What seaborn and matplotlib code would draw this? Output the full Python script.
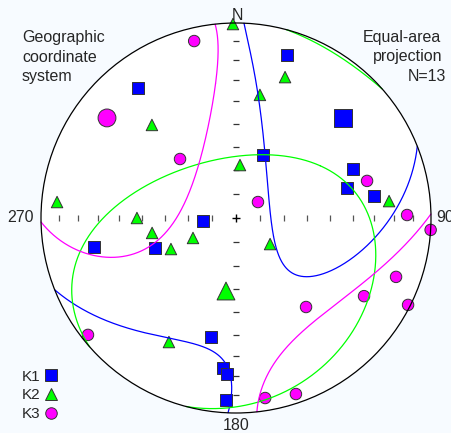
import numpy as np
import pandas as pd
import matplotlib
matplotlib.use("Agg")
import matplotlib.pyplot as plt
from matplotlib.patches import Circle
from matplotlib.lines import Line2D
import seaborn as sns

# Principal susceptibility axes of the 13 specimens (declination, inclination in degrees)
k1_dec = [323.0, 17.4, 23.2, 67.3, 74.9, 80.9, 264.8, 258.5, 249.7, 191.9, 185.0, 183.3, 183.1]
k1_inc = [17.6, 13.5, 61.2, 35.2, 40.7, 29.1, 76.2, 26.6, 53.5, 37.7, 23.8, 21.0, 7.2]
k2_dec = [359.1, 19.2, 11.0, 317.9, 4.3, 83.7, 275.1, 270.0, 259.9, 245.1, 244.5, 127.4, 208.4]
k2_inc = [0.6, 24.5, 35.9, 35.9, 67.8, 22.1, 8.7, 47.9, 54.0, 70.2, 59.7, 72.1, 28.5]
k3_dec = [346.7, 316.5, 74.2, 54.0, 89.0, 93.5, 110.2, 121.4, 116.8, 141.8, 231.7, 170.8, 161.2]
k3_inc = [7.5, 55.7, 30.8, 78.7, 13.3, 0.0, 13.6, 24.1, 1.3, 41.5, 3.7, 7.2, 5.2]

# Mean tensor axes K1, K2, K3
axis_names = ["K1", "K2", "K3"]
mean_dec = [46.9, 187.8, 307.8]
mean_inc = [25.8, 59.0, 17.4]

# 95% confidence ellipses: semi-major / semi-minor angles (deg) and the tilt of the
# major axis, measured in the plane spanned by the two other mean axes
ell_major = [67.3, 67.5, 55.6]
ell_minor = [32.6, 53.7, 41.5]
ell_tilt = [-17.4, -19.4, -82.2]

colors = {"K1": "#0000ff", "K2": "#00ff00", "K3": "#ff00ff"}
markers = {"K1": "s", "K2": "^", "K3": "o"}
grid_inc = [10, 20, 30, 40, 50, 60, 70, 80]


def dir_vec(dec, inc):
    d, i = np.radians(dec), np.radians(inc)
    return np.array([np.cos(i) * np.cos(d), np.cos(i) * np.sin(d), np.sin(i)])


def project(v):
    """Lower-hemisphere equal-area (Schmidt) projection; returns east, north, flipped."""
    n, e, d = v
    flip = d < 0
    n = np.where(flip, -n, n)
    e = np.where(flip, -e, e)
    d = np.abs(d)
    s = 1.0 / np.sqrt(1.0 + d)
    return e * s, n * s, flip


def to_xy(dec, inc):
    x, y, _ = project(dir_vec(np.asarray(dec), np.asarray(inc)))
    return x, y


sns.set_style("white")
plt.rcParams["font.family"] = ["Liberation Sans", "DejaVu Sans"]

W, H, R, CX, CY = 452, 433, 195.0, 236.0, 218.0
fig = plt.figure(figsize=(W / 100, H / 100), dpi=100, facecolor="#f7fbff")
ax = fig.add_axes([0, 0, 1, 1])
ax.set_xlim(-CX / R, (W - CX) / R)
ax.set_ylim(-(H - CY) / R, CY / R)
ax.set_aspect("equal")
ax.set_axis_off()

# Net: white disc and primitive circle
ax.add_patch(Circle((0, 0), 1.0, facecolor="white", edgecolor="none", zorder=0))
ax.add_patch(Circle((0, 0), 1.0, facecolor="none", edgecolor="black", lw=0.9, zorder=6))

# 10-degree inclination ticks along the N-S and E-W diameters
tick_r = np.cos(np.radians(grid_inc)) / np.sqrt(1 + np.sin(np.radians(grid_inc)))
tr = np.concatenate([tick_r, -tick_r])
ax.plot(tr, np.zeros_like(tr), ls="none", marker="|", ms=5, mew=0.9, color="#555555", zorder=1)
ax.plot(np.zeros_like(tr), tr, ls="none", marker="_", ms=5, mew=0.9, color="#333333", zorder=1)
ax.plot([0], [0], ls="none", marker="+", ms=6, mew=1.0, color="black", zorder=1)

# Specimen axes
rows = []
for name, decs, incs in zip(axis_names, [k1_dec, k2_dec, k3_dec], [k1_inc, k2_inc, k3_inc]):
    x, y = to_xy(decs, incs)
    rows.append(pd.DataFrame({"x": x, "y": y, "axis": name}))
df = pd.concat(rows, ignore_index=True)
sns.scatterplot(data=df, x="x", y="y", hue="axis", style="axis", palette=colors,
                markers=markers, s=68, edgecolor="#333333", linewidth=0.7,
                legend=False, ax=ax, zorder=3)

mx, my = to_xy(mean_dec, mean_inc)
dm = pd.DataFrame({"x": mx, "y": my, "axis": axis_names})
sns.scatterplot(data=dm, x="x", y="y", hue="axis", style="axis", palette=colors,
                markers=markers, s=165, edgecolor="#333333", linewidth=0.7,
                legend=False, ax=ax, zorder=3)

# Confidence ellipses around the mean axes, wrapped to the lower hemisphere
means = [dir_vec(d, i) for d, i in zip(mean_dec, mean_inc)]
frames = {0: (1, 2), 1: (0, 2), 2: (0, 1)}
phi = np.linspace(0, 2 * np.pi, 2881)
for k, name in enumerate(axis_names):
    m = means[k]
    u = means[frames[k][0]] - (means[frames[k][0]] @ m) * m
    u /= np.linalg.norm(u)
    v = means[frames[k][1]] - (means[frames[k][1]] @ m) * m - (means[frames[k][1]] @ u) * u
    v /= np.linalg.norm(v)
    a, b, t = np.radians(ell_major[k]), np.radians(ell_minor[k]), np.radians(ell_tilt[k])
    rad = a * b / np.sqrt((b * np.cos(phi - t)) ** 2 + (a * np.sin(phi - t)) ** 2)
    pts = (np.cos(rad) * m[:, None]
           + np.sin(rad) * (np.cos(phi) * u[:, None] + np.sin(phi) * v[:, None]))
    x, y, flip = project(pts)
    brk = np.where(np.diff(flip.astype(int)) != 0)[0] + 1
    x = np.insert(x, brk, np.nan)
    y = np.insert(y, brk, np.nan)
    ax.plot(x, y, color=colors[name], lw=0.9, zorder=5)

# Direction labels
fs = 11.5
ax.text(0.005, 1.015, "N", ha="center", va="baseline", fontsize=fs)
ax.text(-1.036, 0.005, "270", ha="right", va="center", fontsize=fs)
ax.text(1.026, 0.0, "90", ha="left", va="center", fontsize=fs)
ax.text(0.0, -1.062, "180", ha="center", va="center", fontsize=fs)


def fig_text(px, py, s, ha):
    fig.text(px / W, 1 - py / H, s, ha=ha, va="baseline", fontsize=fs)


for line, base in zip(["Geographic", "coordinate", "system"], [42, 61.5, 81]):
    fig_text(22, base, line, "left")
for line, base, right in zip(["Equal-area", "projection", "N=13"], [42, 61.5, 81],
                             [441, 442, 446.5]):
    fig_text(right, base, line, "right")

# Legend
handles = [Line2D([], [], ls="none", marker=markers[n], ms=8.3, mfc=colors[n],
                  mec="#333333", mew=0.7) for n in axis_names]
ax.legend(handles, axis_names, loc="lower left", bbox_to_anchor=(22 / W, 1 - 421 / H),
          bbox_transform=fig.transFigure, markerfirst=False, frameon=False,
          fontsize=11, labelspacing=0.3, handlelength=1.0, handletextpad=0.15,
          borderpad=0, borderaxespad=0)

fig.savefig("out.png", dpi=100, facecolor=fig.get_facecolor())
